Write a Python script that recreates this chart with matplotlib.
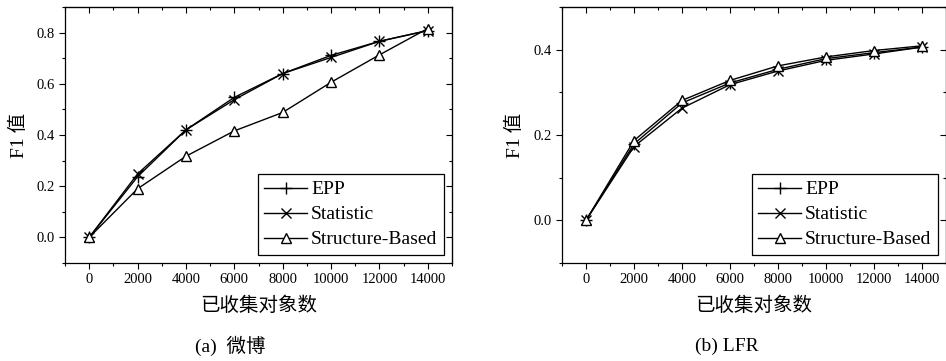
import matplotlib
matplotlib.use("Agg")
import matplotlib.pyplot as plt
from matplotlib.ticker import MultipleLocator

plt.rcParams['font.family'] = ['Liberation Serif', 'Noto Sans CJK SC']
plt.rcParams['mathtext.fontset'] = 'stix'

x = [0, 2000, 4000, 6000, 8000, 10000, 12000, 14000]

weibo_epp = [0.0, 0.237, 0.42, 0.547, 0.64, 0.711, 0.766, 0.808]
weibo_stat = [0.0, 0.248, 0.42, 0.538, 0.64, 0.703, 0.766, 0.808]
weibo_struct = [0.0, 0.19, 0.317, 0.416, 0.488, 0.606, 0.713, 0.816]

lfr_epp = [0.0, 0.179, 0.275, 0.322, 0.354, 0.379, 0.393, 0.406]
lfr_stat = [0.0, 0.173, 0.263, 0.318, 0.35, 0.375, 0.39, 0.406]
lfr_struct = [0.0, 0.187, 0.281, 0.328, 0.362, 0.383, 0.398, 0.409]

series_names = ["EPP", "Statistic", "Structure-Based"]
x_label = "已收集对象数"
y_label = "F1 值"
captions = ["(a)  微博", "(b) LFR"]

fig = plt.figure(figsize=(9.46, 3.61), dpi=100)
ax1 = fig.add_axes([65/946, 98/361, 387/946, 256/361])
ax2 = fig.add_axes([562/946, 98/361, 384/946, 256/361])


def draw(ax, ys, ylim, ymajor, ylab_x):
    ax.plot(x, ys[0], color='black', lw=1.0, marker='+', ms=9, mew=1.0, label=series_names[0])
    ax.plot(x, ys[1], color='black', lw=1.0, marker='x', ms=7.5, mew=1.0, label=series_names[1])
    ax.plot(x, ys[2], color='black', lw=1.0, marker='^', ms=7.5, mew=1.0,
            mfc='white', label=series_names[2])
    ax.set_xlim(-1000, 15000)
    ax.set_ylim(*ylim)
    ax.xaxis.set_major_locator(MultipleLocator(2000))
    ax.xaxis.set_minor_locator(MultipleLocator(1000))
    ax.yaxis.set_major_locator(MultipleLocator(ymajor))
    ax.yaxis.set_minor_locator(MultipleLocator(0.1))
    ax.yaxis.set_major_formatter(lambda v, p: "%.1f" % v)
    ax.tick_params(which='both', direction='out', labelsize=10.5, width=0.8)
    ax.tick_params(which='major', length=4)
    ax.tick_params(which='minor', length=2.5)
    for s in ax.spines.values():
        s.set_linewidth(0.9)

    top = ax.secondary_xaxis('top')
    top.xaxis.set_major_locator(MultipleLocator(2000))
    top.xaxis.set_minor_locator(MultipleLocator(1000))
    top.tick_params(which='both', direction='in', labeltop=False, width=0.8)
    top.tick_params(which='major', length=4)
    top.tick_params(which='minor', length=2.5)
    right = ax.secondary_yaxis('right')
    right.yaxis.set_major_locator(MultipleLocator(ymajor))
    right.yaxis.set_minor_locator(MultipleLocator(0.1))
    right.tick_params(which='both', direction='in', labelright=False, width=0.8)
    right.tick_params(which='major', length=4)
    right.tick_params(which='minor', length=2.5)

    ax.set_xlabel(x_label, fontsize=14, family=['Noto Sans CJK SC'], labelpad=6)
    ax.set_ylabel(y_label, fontsize=14, family=['Liberation Serif', 'Noto Sans CJK SC'])
    ax.yaxis.set_label_coords(ylab_x, 0.5)

    leg = ax.legend(loc='lower right', fontsize=14, frameon=True, fancybox=False,
                    edgecolor='black', framealpha=1, handlelength=2.2,
                    handletextpad=0.2, borderpad=0.35, labelspacing=0.38,
                    borderaxespad=0.4)
    leg.get_frame().set_linewidth(0.9)


draw(ax1, [weibo_epp, weibo_stat, weibo_struct], (-0.1, 0.9), 0.2, -0.095)
draw(ax2, [lfr_epp, lfr_stat, lfr_struct], (-0.1, 0.5), 0.2, -0.1)

fig.text(230/946, 1 - 346/361, captions[0], ha='center', va='center', fontsize=14)
fig.text(727/946, 1 - 346/361, captions[1], ha='center', va='center', fontsize=14)

fig.savefig("out.png", dpi=100)
